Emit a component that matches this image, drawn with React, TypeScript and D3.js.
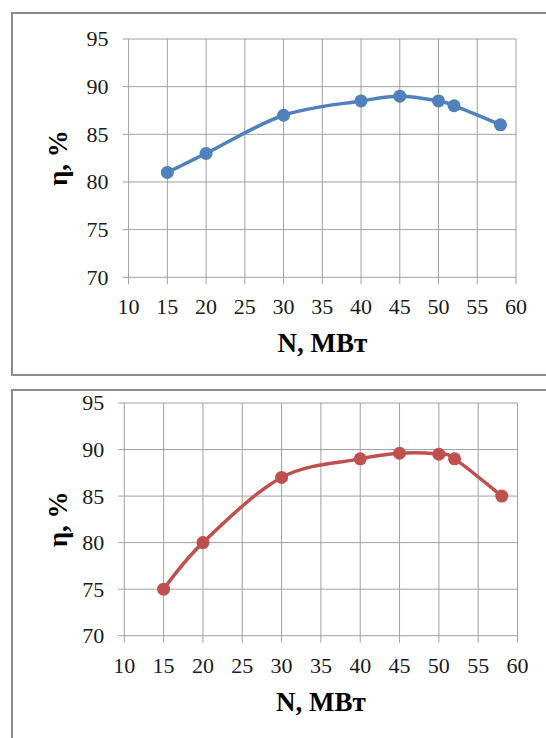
import React from 'react'
import * as d3 from 'd3'

// N, MW
const loads = [15, 20, 30, 40, 45, 50, 52, 58]
// efficiency, %
const etaTop = [81, 83, 87, 88.5, 89, 88.5, 88, 86]
const etaBottom = [75, 80, 87, 89, 89.6, 89.5, 89, 85]

const xTicks = [10, 15, 20, 25, 30, 35, 40, 45, 50, 55, 60]
const yTicks = [70, 75, 80, 85, 90, 95]

const xTitle = 'N, МВт'
const yTitle = 'η, %'

const GRID = '#a0a0a0'
const FRAME = '#8c8c8c'
const FONT = '"Liberation Serif", "Times New Roman", Times, serif'

type PanelProps = {
  values: number[]
  color: string
  left: number
  right: number
  top: number
  bottom: number
}

const Panel = ({ values, color, left, right, top, bottom }: PanelProps) => {
  const x = d3.scaleLinear().domain([10, 60]).range([left, right])
  const y = d3.scaleLinear().domain([70, 95]).range([bottom, top])

  const line = d3
    .line<number>()
    .x((d, i) => x(loads[i]))
    .y(d => y(d))
    .curve(d3.curveCatmullRom.alpha(0))

  const midX = (left + right) / 2
  const midY = (top + bottom) / 2

  return (
    <g>
      {/* grid */}
      {yTicks.map(t => (
        <line key={'h' + t} x1={left - 6} x2={right} y1={y(t)} y2={y(t)} stroke={GRID} strokeWidth={1} />
      ))}
      {xTicks.map(t => (
        <line key={'v' + t} x1={x(t)} x2={x(t)} y1={top} y2={bottom + 7} stroke={GRID} strokeWidth={1} />
      ))}

      {/* tick labels */}
      {yTicks.map(t => (
        <text
          key={'yl' + t}
          x={left - 20}
          y={y(t)}
          dy="0.34em"
          textAnchor="end"
          fontFamily={FONT}
          fontSize={22}
          fill="#1a1a1a"
        >
          {t}
        </text>
      ))}
      {xTicks.map(t => (
        <text
          key={'xl' + t}
          x={x(t)}
          y={bottom + 37}
          textAnchor="middle"
          fontFamily={FONT}
          fontSize={22}
          fill="#1a1a1a"
        >
          {t}
        </text>
      ))}

      {/* axis titles */}
      <text x={midX} y={bottom + 75} textAnchor="middle" fontFamily={FONT} fontSize={27} fontWeight="bold">
        {xTitle}
      </text>
      <g transform={`translate(67,${midY})`}>
        <text transform="rotate(-90)" textAnchor="middle" fontFamily={FONT} fontSize={27} fontWeight="bold">
          {yTitle}
        </text>
      </g>

      {/* series */}
      <path d={line(values) || ''} fill="none" stroke={color} strokeWidth={3.5} />
      {values.map((v, i) => (
        <circle key={'p' + i} cx={x(loads[i])} cy={y(v)} r={6.5} fill={color} />
      ))}
    </g>
  )
}

export default function App() {
  return (
    <svg
      width={546}
      height={738}
      style={{ position: 'absolute', left: 0, top: 0, background: '#fff' }}
    >
      <rect x={0} y={0} width={546} height={738} fill="#fff" />

      {/* frames */}
      <path d="M560,13 H12 V375 H560" fill="none" stroke={FRAME} strokeWidth={2} />
      <path d="M560,390 H12 V750" fill="none" stroke={FRAME} strokeWidth={2} />

      <Panel values={etaTop} color="#4f81bd" left={128.6} right={516} top={39} bottom={277.3} />
      <Panel values={etaBottom} color="#c0504d" left={124.3} right={517.5} top={403} bottom={635.7} />
    </svg>
  )
}
